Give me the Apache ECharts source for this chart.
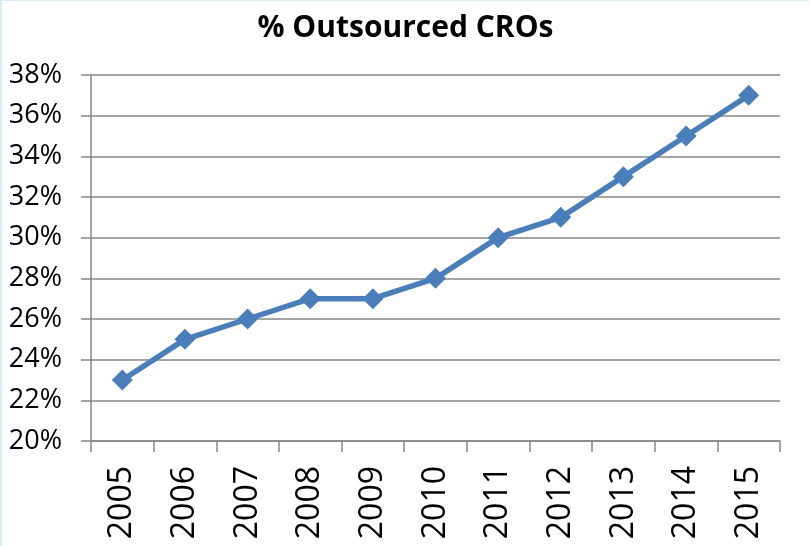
<!DOCTYPE html>
<html>
<head>
<meta charset="utf-8">
<script src="https://cdn.jsdelivr.net/npm/echarts@6/dist/echarts.min.js"></script>
<style>
    html, body { margin: 0; padding: 0; background: #dcebf8; }
    #chart { position: absolute; left: 2px; top: 1px; width: 807px; height: 545px; background: #fff; }
</style>
</head>
<body>
<div id="chart"></div>
<script>
    //数据
    var years = ['2005', '2006', '2007', '2008', '2009', '2010', '2011', '2012', '2013', '2014', '2015'];
    var outsourced = [23, 25, 26, 27, 27, 28, 30, 31, 33, 35, 37];
    var yMin = 20, yMax = 38, yStep = 2;

    var chart = echarts.init(document.getElementById('chart'));

    var gray = '#878787';
    var font = 'Open Sans';

    chart.setOption({
        animation: false,
        title: {
            text: '% Outsourced CROs',
            left: 'center',
            top: 7,
            textStyle: {
                fontFamily: font,
                fontWeight: 'bold',
                fontSize: 30,
                color: '#000'
            }
        },
        grid: {
            left: 89,
            right: 29,
            top: 74,
            bottom: 105
        },
        xAxis: {
            type: 'category',
            data: years,
            boundaryGap: true,
            axisLine: { lineStyle: { color: gray, width: 1.5 } },
            axisTick: { show: true, length: 11, lineStyle: { color: gray, width: 1.5 } },
            axisLabel: {
                rotate: 90,
                margin: 25,
                fontFamily: font,
                fontSize: 32,
                color: '#000'
            }
        },
        yAxis: {
            type: 'value',
            min: yMin,
            max: yMax,
            interval: yStep,
            axisLine: { show: true, lineStyle: { color: gray, width: 1.5 } },
            axisTick: { show: true, length: 10, lineStyle: { color: gray, width: 1.5 } },
            splitLine: { show: true, lineStyle: { color: gray, width: 1.5 } },
            axisLabel: {
                formatter: '{value}%',
                margin: 29,
                fontFamily: font,
                fontSize: 27,
                color: '#000'
            }
        },
        series: [{
            type: 'line',
            data: outsourced,
            symbol: 'diamond',
            symbolSize: 21,
            lineStyle: { color: '#4a7ebb', width: 5.5 },
            itemStyle: { color: '#4a7ebb' }
        }]
    });
</script>
</body>
</html>
